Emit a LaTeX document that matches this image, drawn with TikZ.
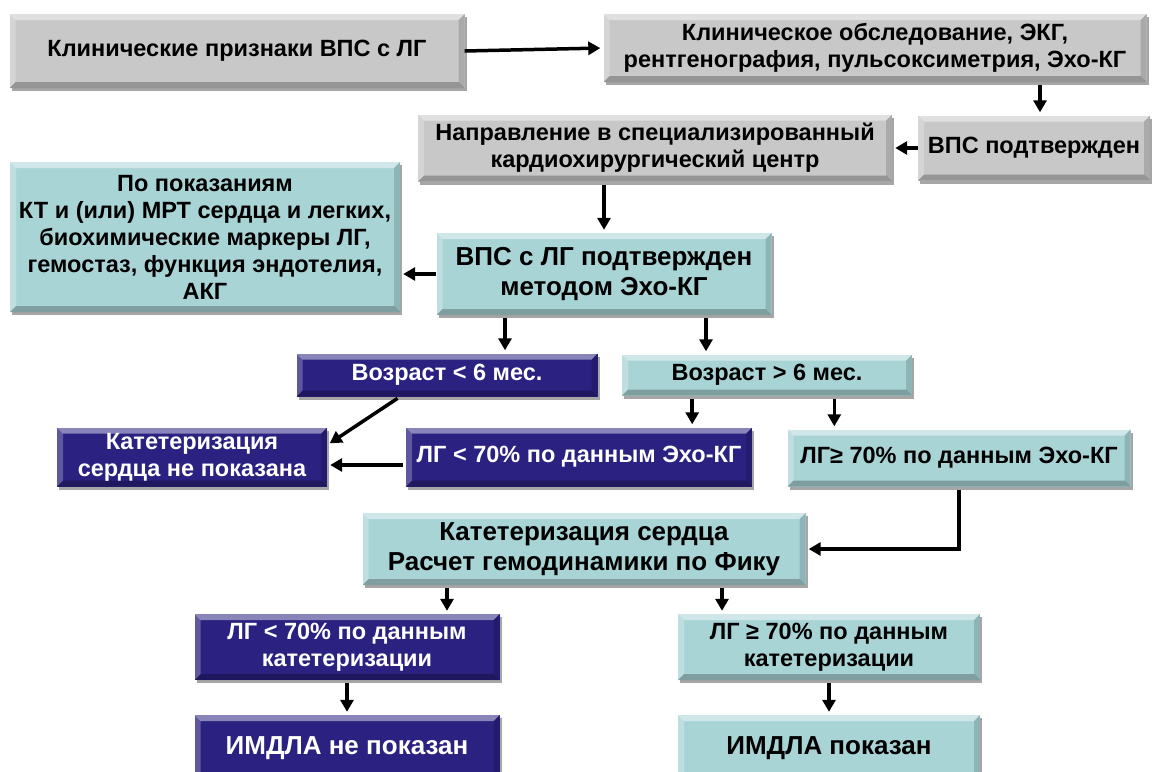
\documentclass[tikz,border=0pt]{standalone}
\usepackage{fontspec}
\setmainfont{Liberation Sans}
\usetikzlibrary{arrows.meta,shadows}
\definecolor{VpsGray}{HTML}{C8C8C8}
\definecolor{VpsTeal}{HTML}{A9D4D6}
\definecolor{VpsNavy}{HTML}{2A2180}

\tikzset{
  bevel/.style={path picture={
    \coordinate (bvnw) at (path picture bounding box.north west);
    \coordinate (bvne) at (path picture bounding box.north east);
    \coordinate (bvsw) at (path picture bounding box.south west);
    \coordinate (bvse) at (path picture bounding box.south east);
    \fill[white,opacity=.45] (bvnw) -- (bvne) -- ([shift={(-6pt,-6pt)}]bvne) -- ([shift={(6pt,-6pt)}]bvnw) -- cycle;
    \fill[white,opacity=.25] (bvnw) -- (bvsw) -- ([shift={(6pt,6pt)}]bvsw) -- ([shift={(6pt,-6pt)}]bvnw) -- cycle;
    \fill[black,opacity=.25] (bvsw) -- (bvse) -- ([shift={(-6pt,6pt)}]bvse) -- ([shift={(6pt,6pt)}]bvsw) -- cycle;
    \fill[black,opacity=.15] (bvne) -- (bvse) -- ([shift={(-6pt,6pt)}]bvse) -- ([shift={(-6pt,-6pt)}]bvne) -- cycle;
  }}
}

\begin{document}
\begin{tikzpicture}[x=1pt,y=-1pt,
  box/.style={bevel,drop shadow={shadow xshift=2pt,shadow yshift=-3pt,opacity=.35,fill=black},
    align=center,inner sep=0pt,font=\bfseries\fontsize{23.5}{27}\selectfont},
  gbox/.style={box,fill=VpsGray},
  tbox/.style={box,fill=VpsTeal},
  nbox/.style={box,fill=VpsNavy,text=white},
  big/.style={font=\bfseries\fontsize{26}{30}\selectfont},
  arr/.style={-{Triangle[length=12pt,width=13pt]},line width=3.5pt,shorten <=3pt,shorten >=3pt}]
  \useasboundingbox (0,0) rectangle (1153,771);

  % first steps
  \node[gbox,minimum width=455,minimum height=74] (priznaki) at (237,51) {Клинические признаки ВПС с ЛГ};
  \node[gbox,minimum width=543,minimum height=68] (obsled) at (875,48) {Клиническое обследование, ЭКГ,\\рентгенография, пульсоксиметрия, Эхо-КГ};
  \node[gbox,minimum width=232,minimum height=65] (vps) at (1034,148) {ВПС подтвержден};
  \node[gbox,minimum width=474,minimum height=67] (centr) at (655,148) {Направление в специализированный\\кардиохирургический центр};
  \node[tbox,minimum width=390,minimum height=150] (pokaz) at (205,237) {По показаниям\\КТ и (или) МРТ сердца и легких,\\биохимические маркеры ЛГ,\\гемостаз, функция эндотелия,\\АКГ};
  \node[tbox,big,minimum width=335,minimum height=82] (echo) at (604,274) {ВПС с ЛГ подтвержден\\методом Эхо-КГ};

  % age
  \node[nbox,minimum width=301,minimum height=43] (mlad) at (447,375) {Возраст < 6 мес.};
  \node[tbox,minimum width=290,minimum height=41] (starsh) at (767,375) {Возраст > 6 мес.};
  \node[nbox,minimum width=270,minimum height=59] (nokat) at (192,457) {Катетеризация\\сердца не показана};
  \node[nbox,minimum width=346,minimum height=59] (lgmal) at (579,457) {ЛГ < 70\% по данным Эхо-КГ};
  \node[tbox,minimum width=343,minimum height=57] (lgbol) at (959,458) {ЛГ≥ 70\% по данным Эхо-КГ};

  % catheterization
  \node[tbox,big,minimum width=443,minimum height=72] (kat) at (584,549) {Катетеризация сердца\\Расчет гемодинамики по Фику};
  \node[nbox,minimum width=305,minimum height=66] (katmal) at (347,647) {ЛГ < 70\% по данным\\катетеризации};
  \node[tbox,minimum width=302,minimum height=66] (katbol) at (829,647) {ЛГ ≥ 70\% по данным\\катетеризации};
  \node[nbox,big,minimum width=305,minimum height=66] (neimdla) at (347,748) {ИМДЛА не показан};
  \node[tbox,big,minimum width=302,minimum height=66] (imdla) at (829,748) {ИМДЛА показан};

  \draw[arr,shorten <=0pt] (priznaki.east) -- (obsled.west);
  \draw[arr] ([xshift=6pt]vps.north |- obsled.south) -- ([xshift=6pt]vps.north);
  \draw[arr,shorten <=0pt] (vps.west) -- (centr.east);
  \draw[arr] (echo.north |- centr.south) -- (echo.north);
  \draw[arr,shorten <=0pt] (echo.west) -- (echo.west -| pokaz.east);
  \draw[arr] ([xshift=58pt]mlad.north |- echo.south) -- ([xshift=58pt]mlad.north);
  \draw[arr] ([xshift=-61pt]starsh.north |- echo.south) -- ([xshift=-61pt]starsh.north);
  \draw[arr] ([xshift=-47pt]mlad.south) -- ([yshift=12pt]nokat.east);
  \draw[arr] ([yshift=-8pt]lgmal.west) -- ([yshift=-8pt]nokat.east);
  \draw[arr] ([xshift=-60pt]lgmal.north east |- starsh.south) -- ([xshift=-60pt]lgmal.north east);
  \draw[arr] ([xshift=47pt]lgbol.north west |- starsh.south) -- ([xshift=47pt]lgbol.north west);
  \draw[arr] (lgbol.south) |- (kat.east);
  \draw[arr] ([xshift=100pt]katmal.north |- kat.south) -- ([xshift=100pt]katmal.north);
  \draw[arr] ([xshift=-107pt]katbol.north |- kat.south) -- ([xshift=-107pt]katbol.north);
  \draw[arr] (katmal.south) -- (neimdla.north);
  \draw[arr] (katbol.south) -- (imdla.north);
\end{tikzpicture}
\end{document}
